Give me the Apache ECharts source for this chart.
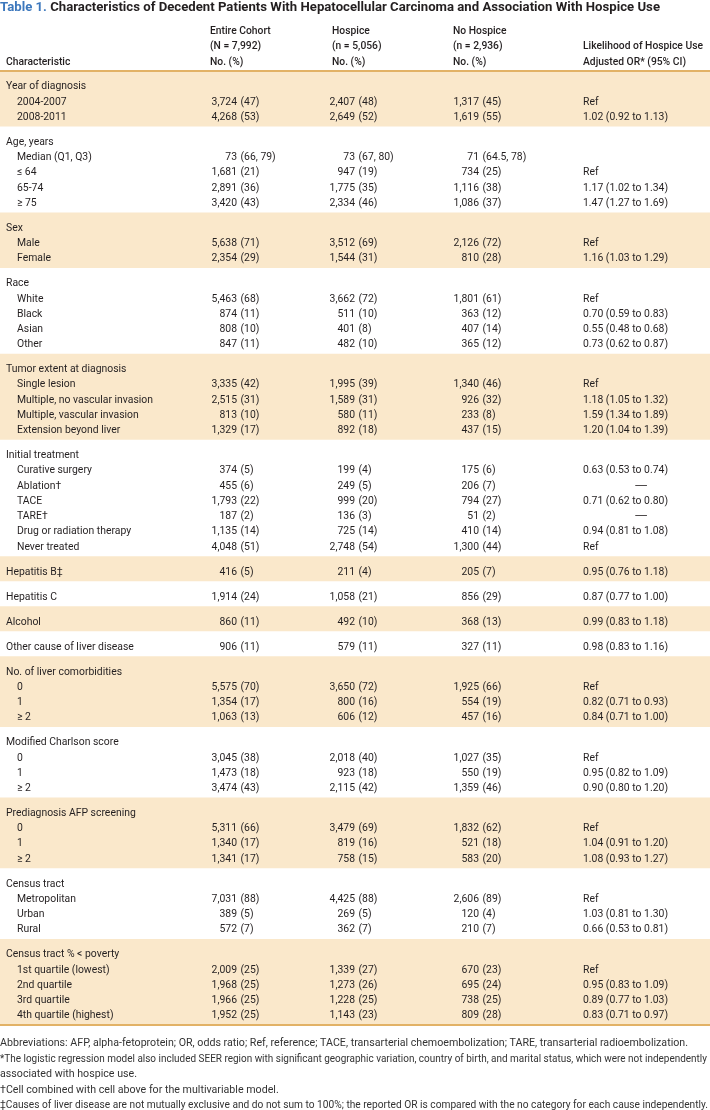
<!DOCTYPE html>
<html><head><meta charset="utf-8">
<script src="https://cdn.jsdelivr.net/npm/echarts@6/dist/echarts.min.js"></script>
<style>html,body{margin:0;padding:0;background:#fff}#c{width:710px;height:1110px}</style>
</head><body><div id="c"></div>
<script>
// ---------------- DATA ----------------
const titleLabel = 'Table 1.';
const titleText = 'Characteristics of Decedent Patients With Hepatocellular Carcinoma and Association With Hospice Use';
const headerLines = [
  ['', '', 'Characteristic'],
  ['Entire Cohort', '(N = 7,992)', 'No. (%)'],
  ['Hospice', '(n = 5,056)', 'No. (%)'],
  ['No Hospice', '(n = 2,936)', 'No. (%)'],
  ['', 'Likelihood of Hospice Use', 'Adjusted OR* (95% CI)']
];
const rowLabels = [
  'Year of diagnosis', '2004-2007', '2008-2011',
  'Age, years', 'Median (Q1, Q3)', '\u2264 64', '65-74', '\u2265 75',
  'Sex', 'Male', 'Female',
  'Race', 'White', 'Black', 'Asian', 'Other',
  'Tumor extent at diagnosis', 'Single lesion', 'Multiple, no vascular invasion', 'Multiple, vascular invasion', 'Extension beyond liver',
  'Initial treatment', 'Curative surgery', 'Ablation\u2020', 'TACE', 'TARE\u2020', 'Drug or radiation therapy', 'Never treated',
  'Hepatitis B\u2021',
  'Hepatitis C',
  'Alcohol',
  'Other cause of liver disease',
  'No. of liver comorbidities', '0', '1', '\u2265 2',
  'Modified Charlson score', '0', '1', '\u2265 2',
  'Prediagnosis AFP screening', '0', '1', '\u2265 2',
  'Census tract', 'Metropolitan', 'Urban', 'Rural',
  'Census tract % < poverty', '1st quartile (lowest)', '2nd quartile', '3rd quartile', '4th quartile (highest)'
];
// 0 = group heading (starts a new band), 1 = indented row
const rowLevel = [
  0,1,1, 0,1,1,1,1, 0,1,1, 0,1,1,1,1, 0,1,1,1,1, 0,1,1,1,1,1,1,
  0, 0, 0, 0, 0,1,1,1, 0,1,1,1, 0,1,1,1, 0,1,1,1, 0,1,1,1,1
];
const entireN = [
  null,3724,4268, null,73,1681,2891,3420, null,5638,2354, null,5463,874,808,847,
  null,3335,2515,813,1329, null,374,455,1793,187,1135,4048,
  416, 1914, 860, 906, null,5575,1354,1063, null,3045,1473,3474, null,5311,1340,1341,
  null,7031,389,572, null,2009,1968,1966,1952
];
const entirePct = [
  null,47,53, null,'66, 79',21,36,43, null,71,29, null,68,11,10,11,
  null,42,31,10,17, null,5,6,22,2,14,51,
  5, 24, 11, 11, null,70,17,13, null,38,18,43, null,66,17,17,
  null,88,5,7, null,25,25,25,25
];
const hospiceN = [
  null,2407,2649, null,73,947,1775,2334, null,3512,1544, null,3662,511,401,482,
  null,1995,1589,580,892, null,199,249,999,136,725,2748,
  211, 1058, 492, 579, null,3650,800,606, null,2018,923,2115, null,3479,819,758,
  null,4425,269,362, null,1339,1273,1228,1143
];
const hospicePct = [
  null,48,52, null,'67, 80',19,35,46, null,69,31, null,72,10,8,10,
  null,39,31,11,18, null,4,5,20,3,14,54,
  4, 21, 10, 11, null,72,16,12, null,40,18,42, null,69,16,15,
  null,88,5,7, null,27,26,25,23
];
const noHospiceN = [
  null,1317,1619, null,71,734,1116,1086, null,2126,810, null,1801,363,407,365,
  null,1340,926,233,437, null,175,206,794,51,410,1300,
  205, 856, 368, 327, null,1925,554,457, null,1027,550,1359, null,1832,521,583,
  null,2606,120,210, null,670,695,738,809
];
const noHospicePct = [
  null,45,55, null,'64.5, 78',25,38,37, null,72,28, null,61,12,14,12,
  null,46,32,8,15, null,6,7,27,2,14,44,
  7, 29, 13, 11, null,66,19,16, null,35,19,46, null,62,18,20,
  null,89,4,7, null,23,24,25,28
];
const oddsRatio = [
  '','Ref','1.02 (0.92 to 1.13)', '','','Ref','1.17 (1.02 to 1.34)','1.47 (1.27 to 1.69)',
  '','Ref','1.16 (1.03 to 1.29)', '','Ref','0.70 (0.59 to 0.83)','0.55 (0.48 to 0.68)','0.73 (0.62 to 0.87)',
  '','Ref','1.18 (1.05 to 1.32)','1.59 (1.34 to 1.89)','1.20 (1.04 to 1.39)',
  '','0.63 (0.53 to 0.74)','\u2014','0.71 (0.62 to 0.80)','\u2014','0.94 (0.81 to 1.08)','Ref',
  '0.95 (0.76 to 1.18)', '0.87 (0.77 to 1.00)', '0.99 (0.83 to 1.18)', '0.98 (0.83 to 1.16)',
  '','Ref','0.82 (0.71 to 0.93)','0.84 (0.71 to 1.00)',
  '','Ref','0.95 (0.82 to 1.09)','0.90 (0.80 to 1.20)',
  '','Ref','1.04 (0.91 to 1.20)','1.08 (0.93 to 1.27)',
  '','Ref','1.03 (0.81 to 1.30)','0.66 (0.53 to 0.81)',
  '','Ref','0.95 (0.83 to 1.09)','0.89 (0.77 to 1.03)','0.83 (0.71 to 0.97)'
];
const footnotes = [
  'Abbreviations: AFP, alpha-fetoprotein; OR, odds ratio; Ref, reference; TACE, transarterial chemoembolization; TARE, transarterial radioembolization.',
  '*The logistic regression model also included SEER region with significant geographic variation, country of birth, and marital status, which were not independently',
  'associated with hospice use.',
  '\u2020Cell combined with cell above for the multivariable model.',
  '\u2021Causes of liver disease are not mutually exclusive and do not sum to 100%; the reported OR is compared with the no category for each cause independently.'
];

// ---------------- LAYOUT / STYLE ----------------
const W = 710;
const FAMILY = 'Roboto, "Noto Sans", sans-serif';
const TEXT = '#231f20';
const BLUE = '#3d78bd';
const BAND = '#fae8cb';
const RULE = '#e2b266';
const L = {
  gridTop: 71, gridBottom: 1025,
  labelX0: 6, labelX1: 17,
  countRight: [237, 355, 479],
  pctLeft: [240.5, 358.5, 482.5],
  orLeft: 583, dashCenter: 641, dashWidth: 14,
  headerX: [6, 210, 332, 453, 583],
  headerY: [31, 46.5, 61.7],
  titleY: 7.5,
  footY: [1043, 1059, 1074.5, 1090, 1105.5],
  padTop: 1.02, padBottom: 0.62
};
const bodyFont = '11.3px ' + FAMILY;
const headFont = '500 11.3px ' + FAMILY;
const titleFont = 'bold 12.8px ' + FAMILY;
const footFont = '10.6px ' + FAMILY;

const mctx = document.createElement('canvas').getContext('2d');
function measure(t, f) { mctx.font = f; return mctx.measureText(t).width; }
const bodyScale = 136 / measure('Multiple, no vascular invasion', bodyFont);
const headScale = 120 / measure('Likelihood of Hospice Use', headFont);
const titleScale = 660 / measure(titleLabel + ' ' + titleText, titleFont);
const footScale = 688 / measure(footnotes[0], footFont);
const dashScale = L.dashWidth / measure('\u2014', bodyFont);

// row positions in row units (group bands separated by padding)
const rowY = [];
const bands = [];
rowLevel.forEach((lv, i) => {
  if (lv === 0) {
    const start = i === 0 ? 0 : rowY[i - 1] + L.padBottom;
    if (bands.length) bands[bands.length - 1][2] = start;
    bands.push([0, start, null, bands.length % 2]);
    rowY[i] = start + L.padTop;
  } else {
    rowY[i] = rowY[i - 1] + 1;
  }
});
const totalY = rowY[rowY.length - 1] + L.padBottom;
bands[bands.length - 1][2] = totalY;

const counts = [entireN, hospiceN, noHospiceN];
const pcts = [entirePct, hospicePct, noHospicePct];
const fmt = n => n.toLocaleString('en-US');

function textEl(t, x, y, align, font, scale, fill) {
  return { type: 'text', x: x, y: y, scaleX: scale, silent: true,
    style: { text: t, x: 0, y: 0, font: font, fill: fill || TEXT, textAlign: align, textVerticalAlign: 'middle' } };
}

// ---------------- GRAPHIC (title, header, footnotes) ----------------
const graphics = [];
const tLabelW = measure(titleLabel + ' ', titleFont) * titleScale;
graphics.push(textEl(titleLabel, 0, L.titleY, 'left', titleFont, titleScale, BLUE));
graphics.push(textEl(titleText, tLabelW, L.titleY, 'left', titleFont, titleScale, TEXT));
headerLines.forEach((lines, c) => lines.forEach((t, r) => {
  if (t) graphics.push(textEl(t, L.headerX[c], L.headerY[r], 'left', headFont, headScale));
}));
footnotes.forEach((t, k) => {
  let s = footScale;
  if (k === 1) s = 707 / measure(t, footFont);
  if (k === 4) s = Math.min(footScale, 708 / measure(t, footFont));
  graphics.push(textEl(t, 0, L.footY[k], 'left', footFont, s, '#333'));
});

// ---------------- CHART ----------------
const chart = echarts.init(document.getElementById('c'), null, { renderer: 'canvas' });
chart.setOption({
  animation: false,
  backgroundColor: '#fff',
  grid: { left: 0, right: 0, top: L.gridTop, bottom: 1110 - L.gridBottom, containLabel: false },
  xAxis: { type: 'value', min: 0, max: W, show: false },
  yAxis: { type: 'value', min: 0, max: totalY, inverse: true, show: false },
  graphic: graphics,
  series: [
    { // group bands
      type: 'custom', silent: true, z: 1,
      data: bands,
      encode: { x: 0, y: 1 },
      renderItem: (params, api) => {
        const p0 = api.coord([0, api.value(1)]);
        const p1 = api.coord([W, api.value(2)]);
        return { type: 'rect', shape: { x: p0[0], y: p0[1], width: p1[0] - p0[0], height: p1[1] - p0[1] },
          style: { fill: api.value(3) === 0 ? BAND : 'rgba(0,0,0,0)' } };
      }
    },
    { // top / bottom rules
      type: 'custom', silent: true, z: 3,
      data: [[0, 0], [0, totalY]],
      encode: { x: 0, y: 1 },
      renderItem: (params, api) => {
        const p0 = api.coord([0, api.value(1)]);
        const p1 = api.coord([W, api.value(1)]);
        return { type: 'line', shape: { x1: p0[0], y1: p0[1], x2: p1[0], y2: p1[1] },
          style: { stroke: RULE, lineWidth: 2 } };
      }
    },
    { // table cells
      type: 'custom', silent: true, z: 5,
      data: rowY.map((y, i) => [0, y, i]),
      encode: { x: 0, y: 1 },
      renderItem: (params, api) => {
        const i = api.value(2);
        const cy = api.coord([0, api.value(1)])[1];
        const X = v => api.coord([v, 0])[0];
        const kids = [];
        kids.push(textEl(rowLabels[i], X(rowLevel[i] === 0 ? L.labelX0 : L.labelX1), cy, 'left', bodyFont, bodyScale));
        counts.forEach((arr, k) => {
          if (arr[i] != null) {
            kids.push(textEl(fmt(arr[i]), X(L.countRight[k]), cy, 'right', bodyFont, bodyScale));
            kids.push(textEl('(' + pcts[k][i] + ')', X(L.pctLeft[k]), cy, 'left', bodyFont, bodyScale));
          }
        });
        const orv = oddsRatio[i];
        if (orv === '\u2014') kids.push(textEl(orv, X(L.dashCenter), cy, 'center', bodyFont, dashScale));
        else if (orv) kids.push(textEl(orv, X(L.orLeft), cy, 'left', bodyFont, bodyScale));
        return { type: 'group', children: kids };
      }
    }
  ]
});
</script>
</body></html>
